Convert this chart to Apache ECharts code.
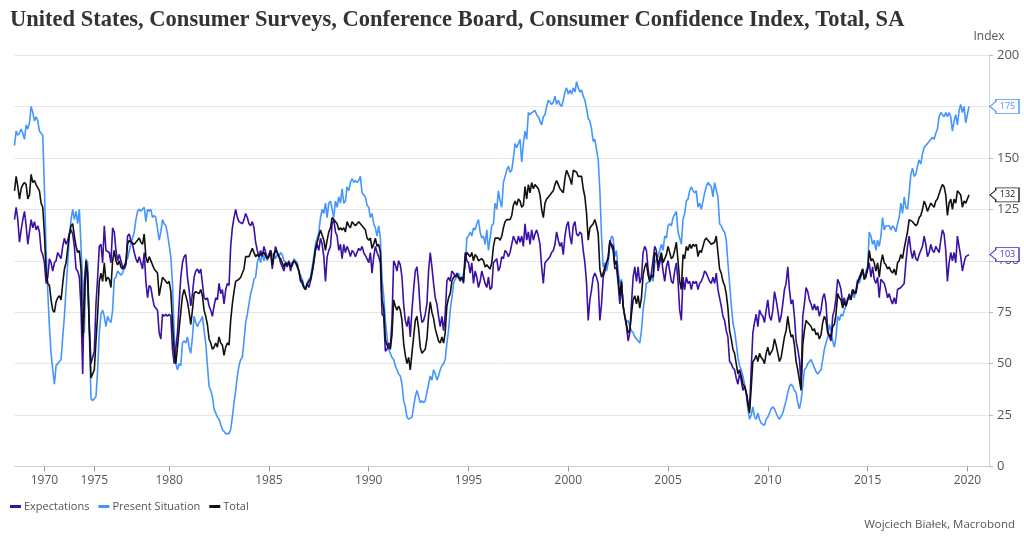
<!DOCTYPE html>
<html>
<head>
<meta charset="utf-8">
<script src="https://cdn.jsdelivr.net/npm/echarts@6/dist/echarts.min.js"></script>
<style>
html,body{margin:0;padding:0;background:#fff;}
#chart{width:1024px;height:542px;}
</style>
</head>
<body>
<div id="chart"></div>
<script>
// Observations: bimonthly Feb 1967 - Jun 1977, monthly Jul 1977 - Feb 2020
const tickYears = [1970, 1975, 1980, 1985, 1990, 1995, 2000, 2005, 2010, 2015, 2020];

const expectations = [
120,126,120,109,115,120,124,117,108,108,120,116,119,115,117,114,105,103,99,89,
92,101,99,95,99,100,104,104,101,107,111,108,110,113,115,113,107,96,95,92,
77,45,89,100,90,68,50,50,56,79,92,107,108,99,117,105,105,104,99,116,114,105,100,
103,100,97,96,98,112,113,110,108,104,101,99,102,99,96,104,90,82,88,87,82,78,78,76,65,62,74,73,74,73,
74,73,57,50,50,65,79,92,99,102,103,92,86,78,84,92,95,96,94,96,
89,82,81,82,78,76,73,78,82,81,89,84,86,79,86,89,88,107,116,121,
125,121,119,119,118,120,123,121,118,117,119,116,109,105,102,105,102,107,104,101,
103,105,96,102,107,104,102,99,97,95,99,97,100,95,99,100,99,97,95,90,
89,87,86,89,87,90,94,99,105,108,105,111,108,102,90,102,105,107,118,120,
114,112,105,108,101,108,104,107,105,102,105,104,102,104,106,105,107,104,104,101,
99,104,94,102,107,104,102,99,74,73,56,57,60,58,71,100,98,95,100,98,
92,79,71,68,73,63,76,86,95,97,89,76,70,71,74,79,95,104,97,89,
82,79,73,68,73,66,74,90,92,90,95,94,92,94,92,90,92,89,104,100,
99,94,99,89,95,92,87,90,95,92,89,87,92,86,87,99,
99,101,95,97,102,101,105,104,102,104,108,112,110,108,112,109,112,107,118,110,
114,108,115,110,113,115,112,108,97,89,99,100,100,102,104,105,108,114,110,107,
109,103,112,117,119,112,108,117,119,113,112,114,113,105,99,89,71,81,86,92,
94,92,89,71,79,92,95,99,102,110,107,105,96,97,89,79,89,78,73,68,
61,65,79,92,97,90,97,89,92,104,107,105,96,90,94,94,
107,105,95,99,102,95,90,97,100,95,90,89,95,99,90,76,71,92,86,92,
89,90,86,90,89,90,86,89,90,92,95,94,92,90,89,92,89,94,86,82,
78,73,71,66,63,51,50,48,47,43,40,45,42,37,39,36,32,28,47,65,
70,74,68,76,74,73,70,76,81,73,71,76,85,81,76,70,73,79,86,89,
97,86,79,81,73,61,57,52,40,73,79,87,85,81,79,76,
79,76,78,73,76,82,84,79,66,63,61,73,76,82,91,89,86,79,82,78,
81,84,81,86,86,84,89,92,94,96,91,92,96,99,92,97,91,89,92,82,
91,91,89,86,82,84,81,79,82,79,86,86,87,87,89,99,107,112,105,101,
105,101,100,103,105,107,112,108,102,104,108,105,104,107,107,104,110,115,113,105,
90,99,104,100,104,99,112,107,102,95,99,102,102,103
];

const presentSituation = [
156,163,161,162,164,162,159,166,164,167,175,172,168,170,168,163,162,161,135,105,
85,68,55,47,40,49,50,51,52,63,73,86,99,112,120,125,120,124,118,125,
125,89,65,101,99,65,33,32,33,34,47,65,74,76,73,68,73,71,70,76,91,92,95,
95,93,94,97,100,101,105,108,111,114,120,124,125,124,125,126,119,125,124,125,121,122,121,121,110,114,120,118,117,113,
113,102,89,65,50,47,50,49,60,61,60,63,58,55,63,73,70,68,70,71,
73,66,60,49,39,37,34,28,28,24,23,23,18,17,16,16,16,18,24,31,
37,44,49,52,53,61,70,74,79,84,87,91,92,99,102,99,104,100,103,100,
100,105,102,104,101,103,102,104,103,100,100,99,98,99,97,101,101,99,95,93,
91,88,86,89,91,92,97,102,108,111,114,121,125,123,128,121,128,129,125,121,
129,126,131,128,135,128,129,136,134,138,140,138,139,138,139,141,133,133,131,127,
126,121,123,118,116,112,117,111,91,83,71,63,57,55,53,52,49,47,45,44,
40,32,29,24,23,23,24,29,34,37,34,31,32,31,32,36,40,44,42,47,
45,42,44,47,49,50,52,60,66,76,82,89,91,92,94,92,91,91,97,111,
112,114,112,116,115,118,120,114,111,112,108,115,105,111,117,118,
128,125,134,129,126,138,141,144,146,143,144,150,157,155,157,159,148,157,163,159,
172,171,172,172,173,171,170,168,166,170,171,175,178,177,176,177,180,176,178,176,
175,178,182,184,181,183,181,184,182,187,184,182,183,180,178,174,169,168,164,158,
159,154,149,134,112,97,99,95,99,108,112,111,102,105,95,89,91,78,73,70,
71,68,66,65,63,63,61,60,66,76,82,89,89,90,92,90,
99,99,102,105,108,105,112,111,117,118,117,121,121,124,114,111,108,120,123,129,
130,134,136,134,133,134,126,128,125,129,133,136,138,138,136,131,138,138,131,118,
117,115,114,110,99,89,79,70,66,60,53,49,47,44,40,36,28,23,25,29,
24,23,26,23,21,21,20,23,24,26,28,29,28,26,24,23,23,26,29,32,
36,39,40,39,37,36,31,28,32,39,47,48,50,50,52,50,
50,46,45,46,47,52,57,60,63,69,66,61,58,63,73,71,74,73,76,78,
82,81,82,86,82,86,91,89,92,95,92,95,97,114,112,108,110,105,110,107,
112,121,115,117,117,117,115,117,116,114,118,121,128,123,131,126,125,133,142,145,
141,142,146,149,147,152,155,155,157,158,159,160,159,162,164,170,172,171,170,172,
170,172,170,163,168,171,166,173,176,172,175,167,171,175
];

const total = [
134,141,136,130,135,137,138,137,130,132,142,138,139,137,137,134,128,126,113,95,
89,88,81,76,75,80,82,83,81,89,96,99,106,113,117,118,112,107,104,105,
96,63,79,100,94,67,43,43,47,61,74,90,94,90,99,90,92,91,87,100,105,100,98,
100,97,96,96,99,108,110,109,109,108,109,109,111,109,108,113,102,99,102,102,98,96,95,94,83,83,92,91,91,89,
90,85,70,56,50,58,67,75,83,86,86,80,75,69,76,84,85,85,84,86,
83,76,73,69,62,60,57,58,60,58,63,60,59,54,58,60,59,71,79,85,
90,90,91,92,92,96,102,102,102,104,106,106,102,103,102,103,103,104,104,101,
102,105,98,103,105,104,102,101,99,97,99,98,99,97,98,100,100,98,95,91,
90,87,86,89,89,91,95,100,106,109,109,115,115,110,105,110,114,116,121,120,
120,118,115,116,115,116,114,119,117,116,119,118,117,118,119,119,117,116,115,111,
110,111,106,108,111,107,108,104,81,77,62,59,59,57,64,81,78,76,78,76,
71,60,54,50,53,47,55,63,71,73,67,58,55,55,57,62,73,80,75,72,
67,64,61,60,63,60,65,78,82,84,90,92,92,93,93,91,92,90,101,104,
104,102,104,100,103,102,100,100,101,100,97,98,97,96,99,107,
111,111,111,110,112,116,119,120,120,120,122,127,129,127,130,129,126,127,136,130,
137,133,138,135,137,137,135,132,125,121,128,130,131,132,133,134,137,139,137,135,
135,133,140,144,144,140,137,144,144,143,141,141,141,135,131,123,110,116,117,118,
120,117,113,96,92,94,97,97,101,109,109,107,98,100,91,83,90,78,73,69,
65,66,74,81,83,79,83,77,82,93,97,99,93,90,93,92,
104,103,98,101,104,99,99,103,107,104,101,102,105,109,100,90,86,103,101,107,
105,108,106,108,107,108,102,105,104,107,110,111,110,109,108,108,109,112,104,96,
94,90,88,84,77,66,62,57,55,50,45,47,44,40,39,36,30,26,38,51,
52,54,51,55,53,52,50,55,58,54,54,57,62,59,55,51,53,58,63,66,
73,67,63,64,59,51,47,42,37,59,66,71,71,69,68,66,
67,64,65,62,64,70,73,71,65,65,63,68,69,74,84,82,81,77,80,78,
81,83,81,86,84,85,90,91,93,96,91,93,96,105,100,101,99,95,99,92,
99,103,99,98,96,97,95,94,96,93,99,100,103,101,106,110,114,120,120,119,
119,117,118,121,122,125,129,127,124,126,128,127,126,129,130,130,135,137,136,132,
122,128,130,125,130,128,134,133,132,126,129,128,130,132
];

// Build category dates (axis extends to Mar 2021)
const BIMONTHLY_COUNT = 63;
const TOTAL_CATEGORIES = 587;
const categories = [];
for (let i = 0; i < TOTAL_CATEGORIES; i++) {
  let y, m;
  if (i < BIMONTHLY_COUNT) { y = 1967 + Math.floor(i / 6); m = 2 + 2 * (i % 6); }
  else { const j = i - BIMONTHLY_COUNT + 6; y = 1977 + Math.floor(j / 12); m = (j % 12) + 1; }
  categories.push(y + '-' + String(m).padStart(2, '0'));
}
const tickIdx = new Set();
tickYears.forEach(function (yr) {
  const k = categories.findIndex(function (c) { return +c.slice(0, 4) === yr; });
  if (k >= 0) tickIdx.add(k);
});
function pad(arr) { const a = arr.slice(); while (a.length < TOTAL_CATEGORIES) a.push(null); return a; }

const C_EXP = '#3a10a6', C_PS = '#4495ff', C_TOT = '#111111';
const lastCat = categories[TOTAL_CATEGORIES - 1];
const TAG = 'path://M0,6.5 L6,2 L6,0 L30,0 L30,13 L6,13 L6,11 Z';
function endTag(arr, color) {
  const v = arr[arr.length - 1];
  return {
    symbol: TAG, symbolSize: [29, 14], symbolOffset: [15.5, 0], silent: true,
    itemStyle: { color: '#fff', borderColor: color, borderWidth: 1 },
    label: { show: true, position: 'inside', offset: [3, 0], color: color, fontSize: 9, fontFamily: 'Open Sans', formatter: String(v) },
    data: [{ coord: [lastCat, v], value: v }]
  };
}

const chart = echarts.init(document.getElementById('chart'), null, { renderer: 'canvas' });
chart.setOption({
  animation: false,
  backgroundColor: '#fff',
  title: {
    text: 'United States, Consumer Surveys, Conference Board, Consumer Confidence Index, Total, SA',
    left: 5, top: 4,
    textStyle: { fontFamily: 'Liberation Serif', fontWeight: 'bold', fontSize: 22.5, color: '#333' }
  },
  legend: {
    data: ['Expectations', 'Present Situation', 'Total'],
    left: 5, top: 496, icon: 'rect', itemWidth: 11, itemHeight: 3, itemGap: 9,
    textStyle: { fontFamily: 'Open Sans', fontSize: 11, color: '#555', padding: [0, 0, 0, -2] }
  },
  graphic: [{
    type: 'text', right: 9, top: 519,
    style: { text: 'Wojciech Białek, Macrobond', fill: '#555', font: '11.5px "Open Sans"' }
  }],
  grid: { left: 14.5, right: 35, top: 55, bottom: 75.5, containLabel: false },
  xAxis: {
    type: 'category', data: categories, boundaryGap: false,
    axisLine: { lineStyle: { color: '#cfcfcf', width: 1 } },
    axisTick: { show: true, interval: function (i) { return tickIdx.has(i); }, length: 5, lineStyle: { color: '#999' } },
    axisLabel: { interval: function (i) { return tickIdx.has(i); }, formatter: function (v) { return v.slice(0, 4); },
      color: '#555', fontSize: 12, fontFamily: 'Open Sans', margin: 8 },
    splitLine: { show: false }
  },
  yAxis: {
    type: 'value', position: 'right', min: 0, max: 200, interval: 25,
    name: 'Index', nameLocation: 'end', nameGap: 12,
    nameTextStyle: { color: '#555', fontSize: 12, fontFamily: 'Open Sans', align: 'center' },
    axisLine: { show: true, lineStyle: { color: '#d5d5d5' } },
    axisTick: { show: true, length: 4, lineStyle: { color: '#bbb' } },
    axisLabel: { color: '#555', fontSize: 13, fontFamily: 'Open Sans', margin: 8 },
    splitLine: { lineStyle: { color: '#e6e6e6' } }
  },
  series: [
    { name: 'Present Situation', type: 'line', data: pad(presentSituation), showSymbol: false, connectNulls: false,
      lineStyle: { color: C_PS, width: 1.6 }, itemStyle: { color: C_PS }, markPoint: endTag(presentSituation, C_PS) },
    { name: 'Expectations', type: 'line', data: pad(expectations), showSymbol: false,
      lineStyle: { color: C_EXP, width: 1.6 }, itemStyle: { color: C_EXP }, markPoint: endTag(expectations, '#4a2fc0') },
    { name: 'Total', type: 'line', data: pad(total), showSymbol: false,
      lineStyle: { color: C_TOT, width: 1.6 }, itemStyle: { color: C_TOT }, markPoint: endTag(total, '#222') }
  ]
});
</script>
</body>
</html>
